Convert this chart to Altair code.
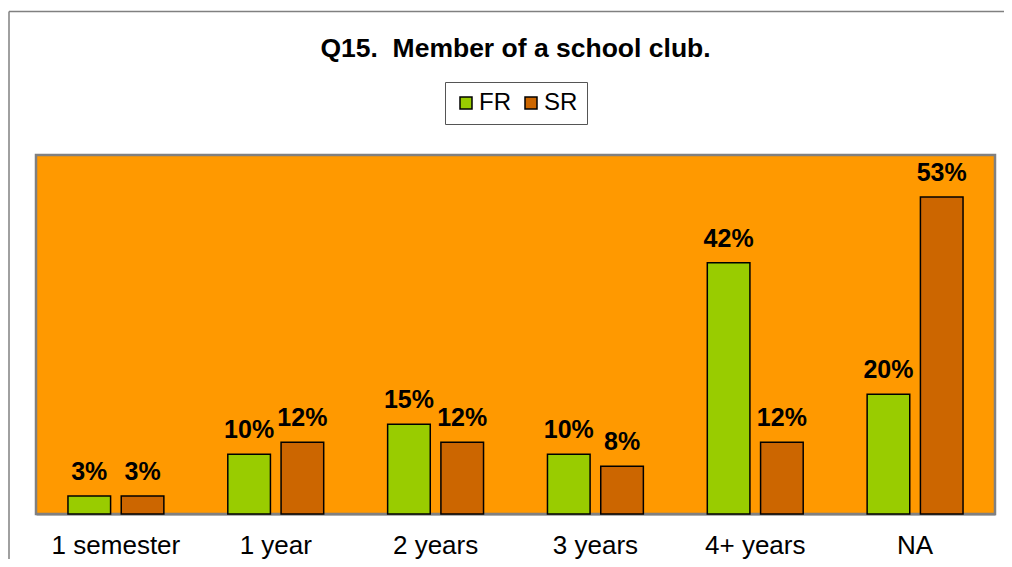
import altair as alt
import pandas as pd

categories = ["1 semester", "1 year", "2 years", "3 years", "4+ years", "NA"]
series_names = ["FR", "SR"]
fr_values = [3, 10, 15, 10, 42, 20]
sr_values = [3, 12, 12, 8, 12, 53]
colors = ["#99CC00", "#CC6600"]

rows = []
for c, f, s in zip(categories, fr_values, sr_values):
    rows.append({"category": c, "series": "FR", "value": f, "label": f"{f}%"})
    rows.append({"category": c, "series": "SR", "value": s, "label": f"{s}%"})
df = pd.DataFrame(rows)

FONT = "Liberation Sans"
W, H = 959, 359
PAD = {"left": 28, "top": 147, "right": 9, "bottom": 45}

x_enc = alt.X(
    "category:N",
    sort=categories,
    scale=alt.Scale(paddingInner=0.4, paddingOuter=0.2),
    axis=alt.Axis(
        title=None,
        labelAngle=0,
        labelFontSize=26,
        labelFont=FONT,
        labelColor="black",
        labelPadding=18,
        ticks=False,
        domainColor="#808080",
        domainWidth=2,
    ),
)
xoff_enc = alt.XOffset("series:N", sort=series_names, scale=alt.Scale(paddingInner=0.2))
y_enc = alt.Y("value:Q", scale=alt.Scale(domain=[0, 60], nice=False), axis=None)

base = alt.Chart(df)

bars = base.mark_bar(stroke="black", strokeWidth=1.5).encode(
    x=x_enc,
    xOffset=xoff_enc,
    y=y_enc,
    color=alt.Color(
        "series:N",
        scale=alt.Scale(domain=series_names, range=colors),
        legend=alt.Legend(
            title=None,
            orient="none",
            legendX=409,
            legendY=-73,
            direction="horizontal",
            symbolType="square",
            symbolSize=144,
            symbolStrokeColor="black",
            symbolStrokeWidth=1.5,
            labelFontSize=24,
            labelFont=FONT,
            labelColor="black",
            labelOffset=1,
            columnPadding=8,
            padding=9,
            strokeColor="#555555",
            fillColor="white",
        ),
    ),
)

labels = base.mark_text(
    baseline="alphabetic", dy=-16, fontSize=25, fontWeight="bold", font=FONT, color="black"
).encode(
    x=x_enc,
    xOffset=xoff_enc,
    y=y_enc,
    text="label:N",
)

frame_df = pd.DataFrame({"k": [0]})
top_line = alt.Chart(frame_df).mark_rule(color="#808080", strokeWidth=1.5).encode(
    x=alt.value(-27), x2=alt.value(W + 20), y=alt.value(-143.5)
)
left_line = alt.Chart(frame_df).mark_rule(color="#808080", strokeWidth=1.5).encode(
    x=alt.value(-27), y=alt.value(-143.5), y2=alt.value(H + 60)
)

chart = (
    alt.layer(top_line, left_line, bars, labels)
    .properties(
        width=W,
        height=H,
        autosize=alt.AutoSizeParams(type="none"),
        padding=PAD,
        title=alt.TitleParams(
            text="Q15.\u00a0 Member of a school club.",
            anchor="middle",
            frame="group",
            baseline="alphabetic",
            offset=-73,
            fontSize=26.5,
            fontWeight="bold",
            font=FONT,
            color="black",
        ),
    )
    .configure(background="white")
    .configure_view(fill="#FF9900", stroke="#808080", strokeWidth=2.5)
)

chart.save("out.html", embed_options={"renderer": "svg", "actions": False})
